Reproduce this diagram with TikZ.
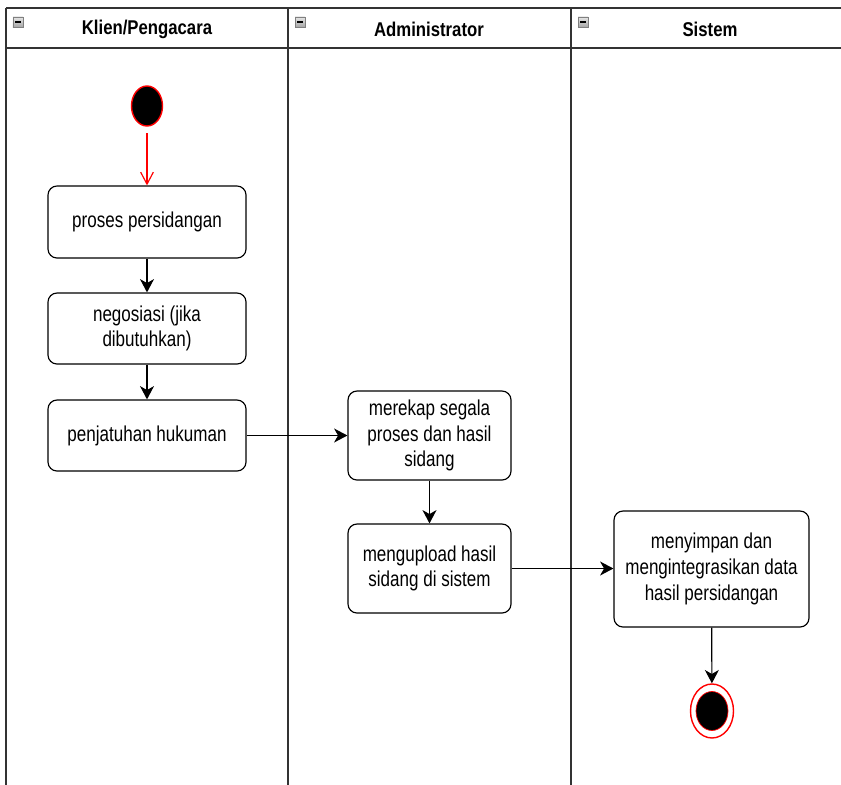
\documentclass[tikz,border=0pt]{standalone}
\usepackage{fontspec}
\setmainfont{Liberation Sans}[FakeStretch=0.79]
\newfontfamily\headfont{Liberation Sans}[FakeStretch=0.84]
\usetikzlibrary{arrows.meta,shapes.geometric}

\begin{document}
\begin{tikzpicture}[x=0.03cm,y=-0.03cm,line width=1pt,
  font=\fontsize{18.4}{22}\selectfont,
  action/.style={draw=black,fill=white,rounded corners=0.27cm,align=center,inner sep=2pt},
  lanehead/.style={font=\headfont\fontsize{17}{20}\selectfont\bfseries},
  toggle/.style={draw=black!50,top color=black!10,bottom color=black!35,line width=0.6pt,minimum size=0.3cm,inner sep=0pt},
  flow/.style={-{Stealth[length=4mm,width=4.2mm,inset=1.2mm]}},
  startflow/.style={red,-{Straight Barb[length=3.6mm,width=3.8mm]}}]
\useasboundingbox (0,0) rectangle (841,785);
% swimlanes
\draw[black!80,line width=1.3pt] (6,8) -- (841,8);
\draw[black!80,line width=1.3pt] (6,48) -- (841,48);
\draw[black!80,line width=1.3pt] (6,8) -- (6,785);
\draw[black!80,line width=1.3pt] (288,8) -- (288,785);
\draw[black!80,line width=1.3pt] (571,8) -- (571,785);
\node[toggle] (tgl1) at (18,22) {};
\node[toggle] (tgl2) at (300,22) {};
\node[toggle] (tgl3) at (583,22) {};
\draw[line width=1.2pt] ([xshift=-0.09cm]tgl1.center) -- ([xshift=0.09cm]tgl1.center);
\draw[line width=1.2pt] ([xshift=-0.09cm]tgl2.center) -- ([xshift=0.09cm]tgl2.center);
\draw[line width=1.2pt] ([xshift=-0.09cm]tgl3.center) -- ([xshift=0.09cm]tgl3.center);
\node[lanehead] (klien) at (147,29) {Klien/Pengacara};
\node[lanehead] (admin) at (429,29) {Administrator};
\node[lanehead] (sistem) at (710,29) {Sistem};
% activities
\node[ellipse,draw=red,fill=black,line width=1.2pt,minimum width=0.93cm,minimum height=1.2cm,inner sep=0pt] (start) at (147,106) {};
\node[action,minimum width=5.94cm,minimum height=2.16cm] (proses) at (147,222) {proses persidangan};
\node[action,minimum width=5.94cm,minimum height=2.13cm] (nego) at (147,328.5) {negosiasi (jika\\dibutuhkan)};
\node[action,minimum width=5.94cm,minimum height=2.13cm] (hukum) at (147,435.5) {penjatuhan hukuman};
\node[action,minimum width=4.89cm,minimum height=2.67cm] (rekap) at (429.5,435.5) {merekap segala\\proses dan hasil\\sidang};
\node[action,minimum width=4.89cm,minimum height=2.67cm] (upload) at (429.5,568.5) {mengupload hasil\\sidang di sistem};
\node[action,minimum width=5.85cm,minimum height=3.48cm] (simpan) at (711.5,569) {menyimpan dan\\mengintegrasikan data\\hasil persidangan};
\node[ellipse,draw=red,fill=white,line width=1.2pt,minimum width=1.29cm,minimum height=1.62cm,inner sep=0pt] (end) at (712,711) {};
\node[ellipse,draw=red,fill=black,line width=0.6pt,minimum width=0.96cm,minimum height=1.17cm,inner sep=0pt] (endin) at (712,711) {};
% flows
\draw[startflow,shorten <=2mm] (start) -- (proses);
\draw[flow] (proses) -- (nego);
\draw[flow] (nego) -- (hukum);
\draw[flow] (hukum) -- (rekap);
\draw[flow] (rekap) -- (upload);
\draw[flow] (upload) -- (upload -| simpan.west);
\draw[flow] (simpan) -- (end);
\end{tikzpicture}
\end{document}
